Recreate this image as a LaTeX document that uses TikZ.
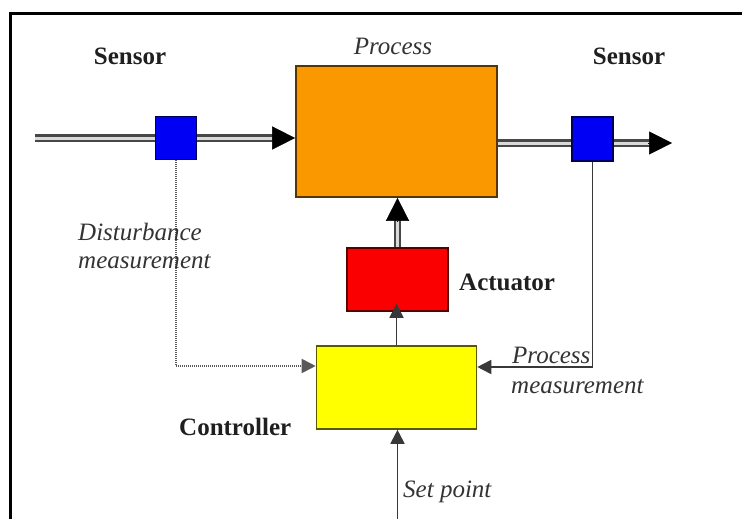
\documentclass[tikz,border=0pt]{standalone}
\usepackage{fontspec}
\setmainfont{Liberation Serif}
\usetikzlibrary{arrows.meta,calc}

\definecolor{procorange}{RGB}{250,152,0}
\definecolor{actred}{RGB}{250,0,0}
\definecolor{ctlyellow}{RGB}{255,255,0}
\definecolor{sensblue}{RGB}{0,0,245}

\begin{document}
\begin{tikzpicture}[x=1pt,y=-1pt,
  box/.style={draw=#1!35!black, fill=#1, line width=1.6pt, inner sep=0pt},
  pipe/.style={draw=black!72, line width=2.2pt, double=black!15, double distance=3pt},
  bighead/.style={-{Triangle[length=23pt,width=23pt]}, line width=0.5pt, black},
  sig/.style={draw=black!78, line width=1.8pt, -{Triangle[length=14pt,width=14pt]}},
  dotsig/.style={draw=black!65, line width=1.8pt, dash pattern=on 1pt off 1pt,
    -{Triangle[length=14pt,width=14pt]}},
  lbl/.style={inner sep=0pt, text=black!88, font=\fontsize{25}{28}\selectfont\bfseries},
  ilbl/.style={inner sep=0pt, text=black!80, font=\fontsize{25}{28}\selectfont\itshape},
]
\useasboundingbox (0,0) rectangle (742,519);

% open frame along the left and top edges
\draw[line width=3pt] (10.5,519) -- (10.5,13.5) -- (742,13.5);

% blocks
\node[box=procorange, minimum width=201pt, minimum height=131pt] (proc) at (396.5,131.5) {};
\node[box=actred, minimum width=101pt, minimum height=63pt] (act) at (397.5,279.5) {};
\node[box=ctlyellow, minimum width=160pt, minimum height=83pt] (ctl) at (396.5,387.5) {};

% process stream in and out
\coordinate (inL) at (35,138);
\coordinate (outR) at (672,143);
\draw[pipe, shorten >=20pt] (inL) -- (proc.west |- inL);
\draw[bighead] ($(proc.west |- inL)+(-23,0)$) -- (proc.west |- inL);
\draw[pipe, shorten >=20pt] (proc.east |- outR) -- (outR);
\draw[bighead] ($(outR)+(-24,0)$) -- (outR);

% sensors sit on the pipes
\node[box=sensblue, minimum width=41pt, minimum height=43pt] (sL) at (176,138) {};
\node[box=sensblue, minimum width=41pt, minimum height=44pt] (sR) at (592.5,139) {};

% actuator drives the process
\draw[pipe, shorten >=20pt] (act.north) -- (act.north |- proc.south);
\draw[bighead] ($(act.north |- proc.south)+(0,23)$) -- (act.north |- proc.south);

% controller output to the actuator
\draw[sig] (ctl.north) -- ([yshift=8pt]ctl.north |- act.south);

% set point
\coordinate (sp) at (397.5,519);
\draw[sig] (sp) -- (sp |- ctl.south);

% measurements back to the controller
\draw[dotsig] (sL.south) |- ([yshift=21.5pt]ctl.west);
\draw[sig] (sR.south) |- ([yshift=20.5pt]ctl.east);

% labels
\node[lbl, anchor=base] (senLT) at (130,65) {Sensor};
\node[lbl, anchor=base] (senRT) at (629,65) {Sensor};
\node[ilbl, anchor=base] (procT) at (393,55) {Process};
\node[ilbl, anchor=base west] (distT1) at (78,240) {Disturbance};
\node[ilbl, anchor=base west] (distT2) at (78,268) {measurement};
\node[lbl, anchor=base west] (actT) at (459,290) {Actuator};
\node[lbl, anchor=base west] (ctlT) at (179,435) {Controller};
\node[ilbl, anchor=base west] (pmT1) at (512,363) {Process};
\node[ilbl, anchor=base west] (pmT2) at (511,393) {measurement};
\node[ilbl, anchor=base west] (spT) at (403,497) {Set point};
\end{tikzpicture}
\end{document}
